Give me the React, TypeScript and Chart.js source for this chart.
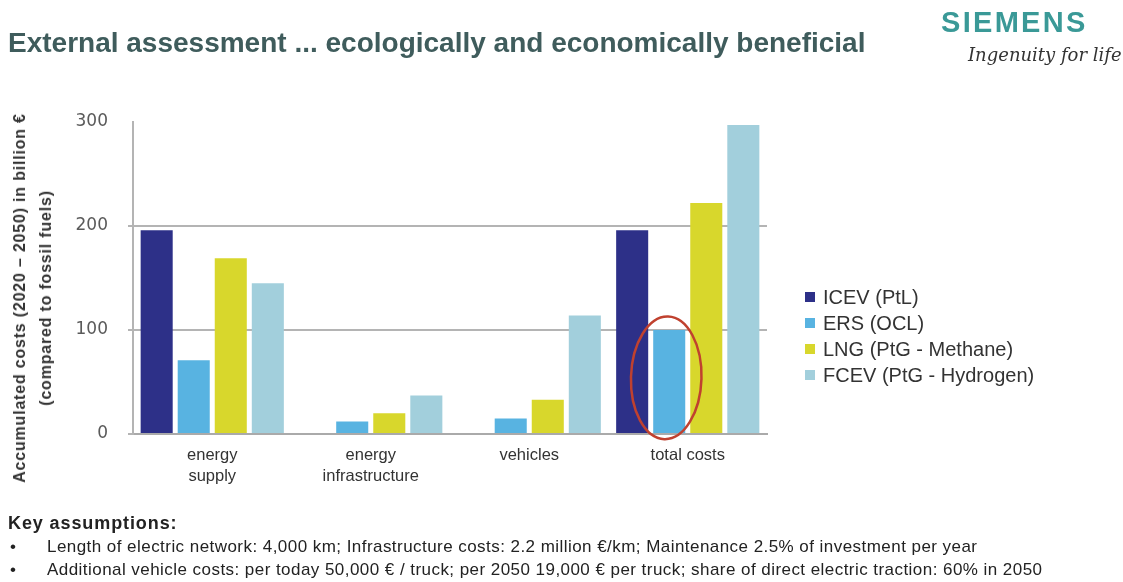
import React, { useEffect, useRef } from "react";
import { Chart, registerables } from "chart.js";

Chart.register(...registerables);

const categories: (string | string[])[] = [
  ["energy", "supply"],
  ["energy", "infrastructure"],
  "vehicles",
  "total costs",
];
const seriesNames = ["ICEV (PtL)", "ERS (OCL)", "LNG (PtG - Methane)", "FCEV (PtG - Hydrogen)"];
const seriesColors = ["#2d3088", "#58b3e1", "#d8d72c", "#a2cfdc"];
const icevValues = [196, 0, 0, 196];
const ersValues = [71, 12, 15, 100];
const lngValues = [169, 20, 33, 222];
const fcevValues = [145, 37, 114, 297];
const yTickValues = [0, 100, 200, 300];
const yAxisTitle = ["Accumulated costs (2020 – 2050) in billion €", "(compared to fossil fuels)"];
const titleText = "External assessment ... ecologically and economically beneficial";
const assumptionsTitle = "Key assumptions:";
const assumptions = [
  "Length of electric network: 4,000 km; Infrastructure costs: 2.2 million €/km; Maintenance 2.5% of investment per year",
  "Additional vehicle costs: per today 50,000 € / truck; per 2050 19,000 € per truck; share of direct electric traction: 60% in 2050",
];
// highlighted bar: series index 1 (ERS), category index 3 (total costs)
const highlight = { series: 1, category: 3, centerValue: 54, halfRange: 59 };

const FONT = "'Liberation Sans', Arial, sans-serif";

const ellipsePlugin = {
  id: "highlightEllipse",
  afterDatasetsDraw(chart: any) {
    const meta = chart.getDatasetMeta(highlight.series);
    const bar = meta.data[highlight.category];
    if (!bar) return;
    const y = chart.scales.y;
    const cx = bar.x - 3;
    const cy = y.getPixelForValue(highlight.centerValue);
    const ry = Math.abs(y.getPixelForValue(highlight.centerValue + highlight.halfRange) - cy);
    const rx = bar.width * 1.1;
    const ctx = chart.ctx;
    ctx.save();
    ctx.beginPath();
    ctx.ellipse(cx, cy, rx, ry, 0.03, 0, Math.PI * 2);
    ctx.strokeStyle = "#c0412f";
    ctx.lineWidth = 2.5;
    ctx.stroke();
    ctx.restore();
  },
};

export default function App() {
  const canvasRef = useRef<HTMLCanvasElement | null>(null);

  useEffect(() => {
    if (!canvasRef.current) return;
    const values = [icevValues, ersValues, lngValues, fcevValues];
    const chart = new Chart(canvasRef.current, {
      type: "bar",
      data: {
        labels: categories,
        datasets: seriesNames.map((name, i) => ({
          label: name,
          data: values[i],
          backgroundColor: seriesColors[i],
          borderWidth: 0,
          barPercentage: 0.865,
          categoryPercentage: 0.935,
        })),
      },
      options: {
        animation: false,
        responsive: false,
        maintainAspectRatio: false,
        layout: { padding: { top: 122, left: 0, right: 356, bottom: 88 } },
        plugins: { legend: { display: false }, tooltip: { enabled: false } },
        scales: {
          x: {
            grid: { display: false, drawTicks: false },
            border: { display: true, color: "#aaaaaa", width: 2 },
            ticks: {
              color: "#333333",
              font: { family: FONT, size: 16.5, lineHeight: 1.33 },
              padding: 10,
              maxRotation: 0,
              autoSkip: false,
            },
            afterFit: (s: any) => {
              s.height = 60;
            },
          },
          y: {
            min: 0,
            max: 300,
            afterBuildTicks: (s: any) => {
              s.ticks = yTickValues.map((v) => ({ value: v }));
            },
            grid: {
              color: (c: any) => (c.tick && c.tick.value === 300 ? "rgba(0,0,0,0)" : "#b4b4b4"),
              lineWidth: 2,
              tickLength: 5,
            },
            border: { display: true, color: "#b4b4b4", width: 2 },
            ticks: {
              color: "#5a5a5a",
              font: { family: "'DejaVu Sans', Verdana, sans-serif", size: 17 },
              padding: 20,
            },
            afterFit: (s: any) => {
              s.width = 133;
            },
          },
        },
      },
      plugins: [ellipsePlugin],
    });
    return () => chart.destroy();
  }, []);

  return (
    <div
      style={{
        position: "absolute",
        left: 0,
        top: 0,
        width: 1123,
        height: 582,
        background: "#ffffff",
        overflow: "hidden",
        fontFamily: FONT,
      }}
    >
      <canvas
        ref={canvasRef}
        width={1123}
        height={582}
        style={{ position: "absolute", left: 0, top: 0, width: 1123, height: 582 }}
      />
      <div
        style={{
          position: "absolute",
          left: 8,
          top: 27,
          fontSize: 28,
          lineHeight: "32px",
          fontWeight: "bold",
          color: "#3f5c5c",
          whiteSpace: "nowrap",
        }}
      >
        {titleText}
      </div>
      <div
        style={{
          position: "absolute",
          left: 941,
          top: 6,
          fontSize: 29,
          lineHeight: "32px",
          fontWeight: "bold",
          color: "#3a9997",
          letterSpacing: 2.3,
          whiteSpace: "nowrap",
        }}
      >
        SIEMENS
      </div>
      <div
        style={{
          position: "absolute",
          left: 968,
          top: 44,
          fontSize: 18,
          lineHeight: "22px",
          fontStyle: "italic",
          fontFamily: "'DejaVu Serif', serif",
          color: "#333333",
          whiteSpace: "nowrap",
        }}
      >
        Ingenuity for life
      </div>
      <div
        style={{
          position: "absolute",
          left: 33,
          top: 298,
          width: 0,
          height: 0,
        }}
      >
        <div
          style={{
            position: "absolute",
            left: 0,
            top: 0,
            transform: "translate(-50%, -50%) rotate(-90deg)",
            textAlign: "center",
            fontSize: 16,
            lineHeight: "26px",
            letterSpacing: 0.8,
            fontWeight: "bold",
            color: "#333333",
            whiteSpace: "nowrap",
          }}
        >
          {yAxisTitle.map((t, i) => (
            <div key={i}>{t}</div>
          ))}
        </div>
      </div>
      <div style={{ position: "absolute", left: 805, top: 284 }}>
        {seriesNames.map((name, i) => (
          <div
            key={name}
            style={{ display: "flex", alignItems: "center", height: 26, whiteSpace: "nowrap" }}
          >
            <span
              style={{
                display: "inline-block",
                width: 10,
                height: 10,
                background: seriesColors[i],
                marginRight: 8,
              }}
            />
            <span style={{ fontSize: 20, color: "#333333" }}>{name}</span>
          </div>
        ))}
      </div>
      <div
        style={{
          position: "absolute",
          left: 8,
          top: 513,
          fontSize: 18,
          lineHeight: "20px",
          letterSpacing: 0.9,
          fontWeight: "bold",
          color: "#222222",
          whiteSpace: "nowrap",
        }}
      >
        {assumptionsTitle}
      </div>
      {assumptions.map((line, i) => (
        <div
          key={i}
          style={{
            position: "absolute",
            left: 8,
            top: 537 + i * 23,
            fontSize: 17,
            lineHeight: "20px",
            color: "#222222",
            whiteSpace: "nowrap",
          }}
        >
          <span style={{ display: "inline-block", width: 37, paddingLeft: 2 }}>•</span>
          <span style={{ letterSpacing: 0.45 }}>{line}</span>
        </div>
      ))}
    </div>
  );
}
